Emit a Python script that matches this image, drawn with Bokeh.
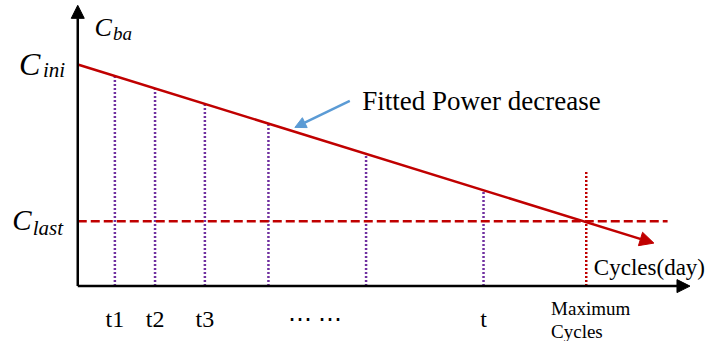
from bokeh.plotting import figure
from bokeh.models import Range1d, Arrow, NormalHead
from bokeh.core.properties import value
from bokeh.embed import file_html
from bokeh.resources import INLINE

# ---- data (cycles in arbitrary day units, capacity normalised to C_ini) ----
c_ini = 1.0
c_last = 0.293
max_cycles = 100.0

fit_cycles = [0.0, 113.3]          # fitted power-decrease line
fit_capacity = [1.0, 0.194]

t_cycles = [7.3, 15.2, 25.0, 37.5, 56.7, 79.8]        # sampled cycles
t_capacity = [0.948, 0.892, 0.822, 0.733, 0.596, 0.432]

tick_labels = ["t1", "t2", "t3", "\u22ef \u22ef", "t"]
tick_cycles = [7.3, 15.2, 25.0, 46.7, 79.8]

max_top = 0.52
x_axis_end = 120.4
y_axis_end = 1.267
last_line_end = 116.0

SERIF = value("Liberation Serif")
RED = "#C00000"
PURPLE = "#7030A0"
BLUE = "#5B9BD5"

p = figure(width=709, height=341, output_backend="svg", toolbar_location=None,
           x_range=Range1d(-15.194, 124.24), y_range=Range1d(-0.25, 1.2888),
           x_axis_location=None, y_axis_location=None, min_border=0,
           outline_line_color=None)
p.grid.visible = False

# sampled-cycle verticals (purple dotted)
p.segment(x0=t_cycles, y0=[0] * len(t_cycles), x1=t_cycles, y1=t_capacity,
          line_color=PURPLE, line_width=2.5, line_dash="2 2")

# maximum cycles vertical (red dotted)
p.segment(x0=[max_cycles], y0=[0], x1=[max_cycles], y1=[max_top],
          line_color=RED, line_width=2.5, line_dash="2 2")

# C_last dashed horizontal
p.segment(x0=[0], y0=[c_last], x1=[last_line_end], y1=[c_last],
          line_color=RED, line_width=2.5, line_dash="9 4")

# fitted power decrease (red arrow)
p.add_layout(Arrow(x_start=fit_cycles[0], y_start=fit_capacity[0],
                   x_end=fit_cycles[1], y_end=fit_capacity[1],
                   line_color=RED, line_width=2.5,
                   end=NormalHead(size=14, fill_color=RED, line_color=RED, line_width=1)))

# axes with arrows
p.add_layout(Arrow(x_start=0, y_start=0, x_end=x_axis_end, y_end=0,
                   line_color="black", line_width=2.5,
                   end=NormalHead(size=13, fill_color="black", line_color="black", line_width=1)))
p.add_layout(Arrow(x_start=0, y_start=0, x_end=0, y_end=y_axis_end,
                   line_color="black", line_width=2.5,
                   end=NormalHead(size=13, fill_color="black", line_color="black", line_width=1)))

# blue pointer arrow
p.add_layout(Arrow(x_start=53.5, y_start=0.836, x_end=42.7, y_end=0.716,
                   line_color=BLUE, line_width=2.5,
                   end=NormalHead(size=11, fill_color=BLUE, line_color=BLUE, line_width=1)))

# annotation text
p.text(x=[55.96], y=[0.836], text=["Fitted Power decrease"], text_font=SERIF,
       text_font_size="27px", text_color="black", text_baseline="alphabetic", text_align="left")

# x tick labels
p.text(x=tick_cycles, y=[-0.1466] * len(tick_cycles), text=tick_labels, text_font=SERIF,
       text_font_size="24px", text_color="black", text_baseline="alphabetic", text_align="center")

p.text(x=[93.08, 93.08], y=[-0.099, -0.207], text=["Maximum", "Cycles"], text_font=SERIF,
       text_font_size="19px", text_color="black", text_baseline="alphabetic", text_align="left")

p.text(x=[101.5], y=[0.082], text=["Cycles(day)"], text_font=SERIF,
       text_font_size="23px", text_color="black", text_baseline="alphabetic", text_align="left")

# y labels: C with italic subscript
p.text(x=[-11.54], y=[1.0], text=["C"], text_font=SERIF, text_font_style="italic",
       text_font_size="32px", text_color="black", text_baseline="alphabetic", text_align="left")
p.text(x=[-12.88], y=[0.297], text=["C"], text_font=SERIF, text_font_style="italic",
       text_font_size="29px", text_color="black", text_baseline="alphabetic", text_align="left")
p.text(x=[3.27], y=[1.168], text=["C"], text_font=SERIF, text_font_style="italic",
       text_font_size="26px", text_color="black", text_baseline="alphabetic", text_align="left")
p.text(x=[-6.85, -8.85], y=[0.974, 0.263], text=["ini", "last"],
       text_font=SERIF, text_font_style="italic", text_font_size="21px", text_color="black",
       text_baseline="alphabetic", text_align="left")
p.text(x=[6.92], y=[1.138], text=["ba"],
       text_font=SERIF, text_font_style="italic", text_font_size="19px", text_color="black",
       text_baseline="alphabetic", text_align="left")

open("out.html", "w").write(file_html(p, INLINE))
